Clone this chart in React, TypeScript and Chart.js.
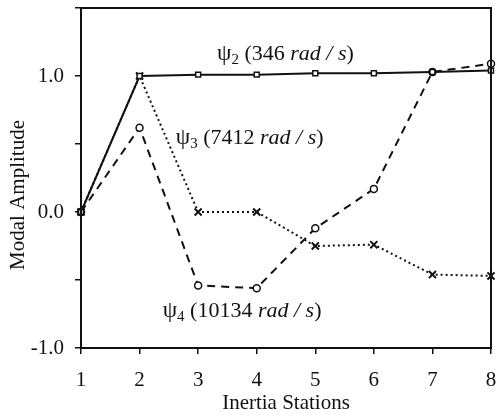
import React, { useEffect, useRef } from "react";
import { Chart, registerables } from "chart.js";

Chart.register(...registerables);

const stations = [1, 2, 3, 4, 5, 6, 7, 8];
const psi2 = [0, 1.0, 1.01, 1.01, 1.02, 1.02, 1.03, 1.04];
const psi3 = [0, 1.0, 0.0, 0.0, -0.25, -0.24, -0.46, -0.47];
const psi4 = [0, 0.62, -0.54, -0.56, -0.12, 0.17, 1.03, 1.09];

const labelTexts = [
  { sub: "2", num: "346", x: 4.49, y: 1.17 },
  { sub: "3", num: "7412", x: 3.88, y: 0.55 },
  { sub: "4", num: "10134", x: 3.75, y: -0.72 },
];

const yTickLabels: Record<string, string> = { "-1": "-1.0", "0": "0.0", "1": "1.0" };
const xTitle = "Inertia Stations";
const yTitle = "Modal Amplitude";

const SERIF = "'Liberation Serif', 'DejaVu Serif', serif";
const INK = "#111";

const labelPlugin = {
  id: "modeLabels",
  afterDatasetsDraw(chart: any) {
    const ctx = chart.ctx;
    const xs = chart.scales.x;
    const ys = chart.scales.y;
    ctx.save();
    ctx.fillStyle = INK;
    ctx.textBaseline = "alphabetic";
    ctx.textAlign = "left";
    for (const l of labelTexts) {
      const parts = [
        { t: "ψ", f: `23px ${SERIF}`, dy: 0 },
        { t: l.sub, f: `15px ${SERIF}`, dy: 4 },
        { t: " (" + l.num + " ", f: `22px ${SERIF}`, dy: 0 },
        { t: "rad / s", f: `italic 22px ${SERIF}`, dy: 0 },
        { t: ")", f: `22px ${SERIF}`, dy: 0 },
      ];
      let total = 0;
      for (const p of parts) {
        ctx.font = p.f;
        total += ctx.measureText(p.t).width;
      }
      let cx = xs.getPixelForValue(l.x) - total / 2;
      const cy = ys.getPixelForValue(l.y) + 7;
      for (const p of parts) {
        ctx.font = p.f;
        ctx.fillText(p.t, cx, cy + p.dy);
        cx += ctx.measureText(p.t).width;
      }
    }
    // y axis title
    ctx.font = `21px ${SERIF}`;
    ctx.textAlign = "center";
    ctx.textBaseline = "middle";
    ctx.translate(18, 195);
    ctx.rotate(-Math.PI / 2);
    ctx.fillText(yTitle, 0, 0);
    ctx.restore();
  },
};

const framePlugin = {
  id: "frame",
  afterDraw(chart: any) {
    const { left, right, top, bottom } = chart.chartArea;
    const ctx = chart.ctx;
    ctx.save();
    ctx.strokeStyle = INK;
    ctx.lineWidth = 2;
    ctx.beginPath();
    ctx.moveTo(left, bottom);
    ctx.lineTo(left, top);
    ctx.lineTo(right, top);
    ctx.lineTo(right, bottom);
    ctx.lineTo(left, bottom);
    ctx.stroke();
    ctx.restore();
  },
};

export default function App() {
  const ref = useRef<HTMLCanvasElement>(null);
  useEffect(() => {
    if (!ref.current) return;
    const mk = (data: number[]) => stations.map((s, i) => ({ x: s, y: data[i] }));
    const chart = new Chart(ref.current, {
      type: "line",
      data: {
        datasets: [
          {
            label: "psi2",
            data: mk(psi2),
            borderColor: INK,
            borderWidth: 2,
            pointStyle: "rect",
            pointRadius: 3.5,
            pointBackgroundColor: "#fff",
            pointBorderColor: INK,
            pointBorderWidth: 1.5,
            tension: 0,
          },
          {
            label: "psi3",
            data: mk(psi3),
            borderColor: INK,
            borderWidth: 2,
            borderDash: [2, 3],
            pointStyle: "crossRot",
            pointRadius: 5,
            pointBorderColor: INK,
            pointBorderWidth: 2,
            tension: 0,
          },
          {
            label: "psi4",
            data: mk(psi4),
            borderColor: INK,
            borderWidth: 2,
            borderDash: [8, 6],
            pointStyle: "circle",
            pointRadius: 3.5,
            pointBackgroundColor: "#fff",
            pointBorderColor: INK,
            pointBorderWidth: 1.5,
            tension: 0,
          },
        ],
      },
      options: {
        responsive: false,
        animation: false,
        clip: false,
        layout: { padding: { left: 0, right: 5, top: 8, bottom: 0 } },
        plugins: { legend: { display: false }, tooltip: { enabled: false } },
        scales: {
          x: {
            type: "linear",
            min: 1,
            max: 8,
            ticks: {
              stepSize: 1,
              color: INK,
              font: { family: SERIF, size: 21 },
              padding: 14,
              maxRotation: 0,
            },
            grid: { drawOnChartArea: false, drawTicks: true, tickLength: 6, color: INK, lineWidth: 1.5 },
            border: { display: true, color: INK, width: 2 },
            title: {
              display: true,
              text: xTitle,
              color: INK,
              font: { family: SERIF, size: 21 },
              padding: { top: 0, bottom: 2 },
            },
            afterFit: (s: any) => {
              s.height = 70;
              s.paddingLeft = 0;
              s.paddingRight = 0;
            },
          },
          y: {
            type: "linear",
            min: -1,
            max: 1.5,
            ticks: {
              stepSize: 0.5,
              color: INK,
              font: { family: SERIF, size: 21 },
              padding: 11,
              callback: (v: any) => yTickLabels[String(v)] ?? "",
            },
            grid: { drawOnChartArea: false, drawTicks: true, tickLength: 6, color: INK, lineWidth: 1.5 },
            border: { display: true, color: INK, width: 2 },
            afterFit: (s: any) => {
              s.width = 81;
              s.paddingTop = 0;
              s.paddingBottom = 0;
            },
          },
        },
      },
      plugins: [labelPlugin, framePlugin],
    });
    return () => chart.destroy();
  }, []);
  return (
    <div style={{ position: "fixed", left: 0, top: 0, width: 498, height: 418, background: "#fff" }}>
      <canvas ref={ref} width={498} height={418} />
    </div>
  );
}
